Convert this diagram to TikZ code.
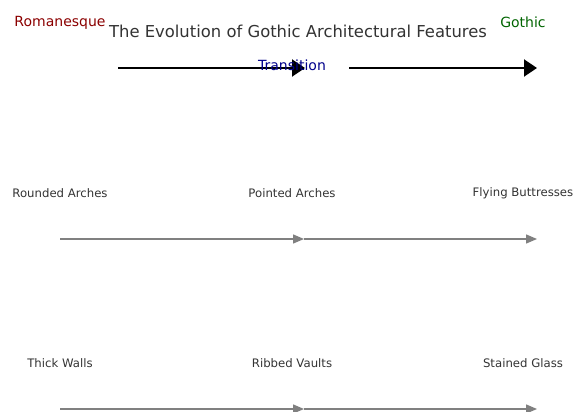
\documentclass[tikz,border=0pt]{standalone}
\usepackage{fontspec}
\setmainfont{DejaVu Sans}
\usetikzlibrary{arrows.meta}
\definecolor{txt}{HTML}{333333}
\definecolor{romred}{HTML}{8B0000}
\definecolor{gothgreen}{HTML}{006400}
\definecolor{transblue}{HTML}{00008B}
\definecolor{arrgray}{HTML}{808080}
\tikzset{
  lbl/.style={inner sep=0pt, text=txt, font=\fontsize{11.7}{13}\selectfont},
  era/.style={inner sep=0pt, font=\fontsize{14}{16}\selectfont},
  bigarrow/.style={draw=black, line width=2pt, -{Triangle[length=13pt,width=17pt]}},
  grayarrow/.style={draw=arrgray, line width=1.5pt, -{Triangle[length=11pt,width=9pt]}}
}
\begin{document}
\begin{tikzpicture}[x=1pt,y=-1pt]
\useasboundingbox (0,0) rectangle (582,412);
\node[inner sep=0pt, text=txt, font=\fontsize{16.4}{18}\selectfont] (title) at (298,31) {The Evolution of Gothic Architectural Features};
\node[era, text=romred] (rom) at (60,22.5) {Romanesque};
\node[era, text=gothgreen] (goth) at (523,22.5) {Gothic};
% top arrows
\coordinate (a1s) at (118,68);
\coordinate (a1e) at (305,68);
\coordinate (a2s) at (349,68);
\coordinate (a2e) at (537,68);
\draw[bigarrow] (a1s) -- (a1e);
\draw[bigarrow] (a2s) -- (a2e);
\node[era, text=transblue] (trans) at (292,65) {Transition};
% row 2
\node[lbl] (ra) at (60,193.5) {Rounded Arches};
\node[lbl] (pa) at (292,193.5) {Pointed Arches};
\node[lbl] (fb) at (523,193.5) {Flying Buttresses};
\coordinate (r2a) at (60,239);
\coordinate (r2b) at (304,239);
\coordinate (r2c) at (537,239);
\draw[grayarrow] (r2a) -- (r2b);
\draw[grayarrow] (r2b) -- (r2c);
% row 3
\node[lbl] (tw) at (60,363.5) {Thick Walls};
\node[lbl] (rv) at (292,363.5) {Ribbed Vaults};
\node[lbl] (sg) at (523,363.5) {Stained Glass};
\coordinate (r3a) at (60,409);
\coordinate (r3b) at (304,409);
\coordinate (r3c) at (537,409);
\draw[grayarrow] (r3a) -- (r3b);
\draw[grayarrow] (r3b) -- (r3c);
\end{tikzpicture}
\end{document}
